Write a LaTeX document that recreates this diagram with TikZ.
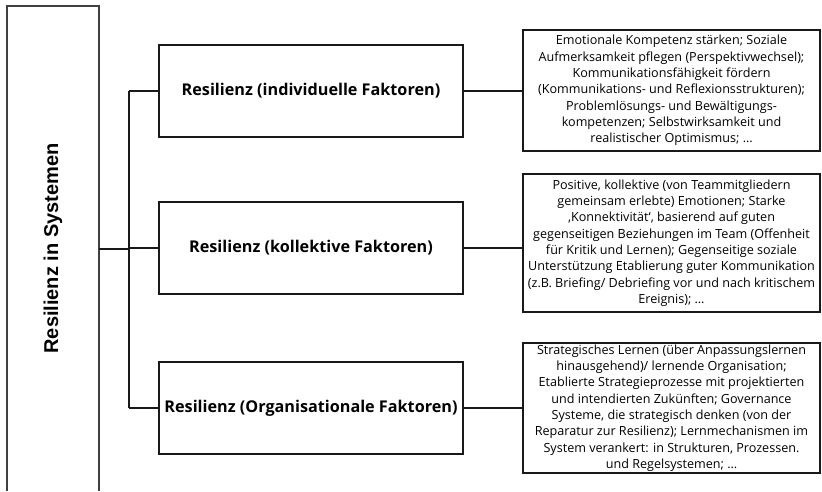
\documentclass[tikz,border=0pt]{standalone}
\usepackage{fontspec}
\setmainfont{Open Sans}
\newfontfamily\titlefont{Liberation Sans}
\begin{document}
\begin{tikzpicture}[x=1pt,y=-1pt,
  line/.style={draw=black!90,line width=2pt},
  sysbox/.style={draw=none,minimum width=92pt,minimum height=485pt,inner sep=0pt,
    font=\titlefont\bfseries\fontsize{20}{23}\selectfont},
  factor/.style={line,minimum width=304pt,minimum height=92pt,inner sep=0pt,
    font=\bfseries\fontsize{16.2}{19}\selectfont},
  detail/.style={line,minimum width=297pt,inner sep=0pt,align=center,
    font=\fontsize{12.6}{16.3}\selectfont}]
\useasboundingbox (0,0) rectangle (822,491);

% system box, open at the bottom
\node[sysbox] (sys) at (53,248.5) {\rotatebox{90}{Resilienz in Systemen}};
\draw[draw=black!75,line width=2pt] (sys.south west) -- (sys.north west) -- (sys.north east) -- (sys.south east);

% factor boxes
\node[factor] (m1) at (311,91) {Resilienz (individuelle Faktoren)};
\node[factor] (m2) at (311,248) {Resilienz (kollektive Faktoren)};
\node[factor] (m3) at (311,408) {Resilienz (Organisationale Faktoren)};

% detail boxes
\node[detail,minimum height=121pt] (r1) at (671.5,90.5) {Emotionale Kompetenz stärken; Soziale\\
Aufmerksamkeit pflegen (Perspektivwechsel);\\
Kommunikationsfähigkeit fördern\\
(Kommunikations- und Reflexionsstrukturen);\\
Problemlösungs- und Bewältigungs-\\
kompetenzen; Selbstwirksamkeit und\\
realistischer Optimismus; \dots};
\node[detail,minimum height=138pt] (r2) at (671.5,243) {Positive, kollektive (von Teammitgliedern\\
gemeinsam erlebte) Emotionen; Starke\\
‚Konnektivität‘, basierend auf guten\\
gegenseitigen Beziehungen im Team (Offenheit\\
für Kritik und Lernen); Gegenseitige soziale\\
Unterstützung Etablierung guter Kommunikation\\
(z.B. Briefing/ Debriefing vor und nach kritischem\\
Ereignis); \dots};
\node[detail,minimum height=130pt] (r3) at (671.5,408) {Strategisches Lernen (über Anpassungslernen\\
hinausgehend)/ lernende Organisation;\\
Etablierte Strategieprozesse mit projektierten\\
und intendierten Zukünften; Governance\\
Systeme, die strategisch denken (von der\\
Reparatur zur Resilienz); Lernmechanismen im\\
System verankert: in Strukturen, Prozessen.\\
und Regelsystemen; \dots};

% tree connectors
\coordinate (j) at (129,248.5);
\draw[line] (sys.east) -- (j);
\draw[line] (j |- m1.west) -- (j |- m3.west);
\foreach \m in {m1,m2,m3} \draw[line] (j |- \m.west) -- (\m.west);
\draw[line] (m1.east) -- (m1.east -| r1.west);
\draw[line] (m2.east) -- (m2.east -| r2.west);
\draw[line] (m3.east) -- (m3.east -| r3.west);
\end{tikzpicture}
\end{document}
